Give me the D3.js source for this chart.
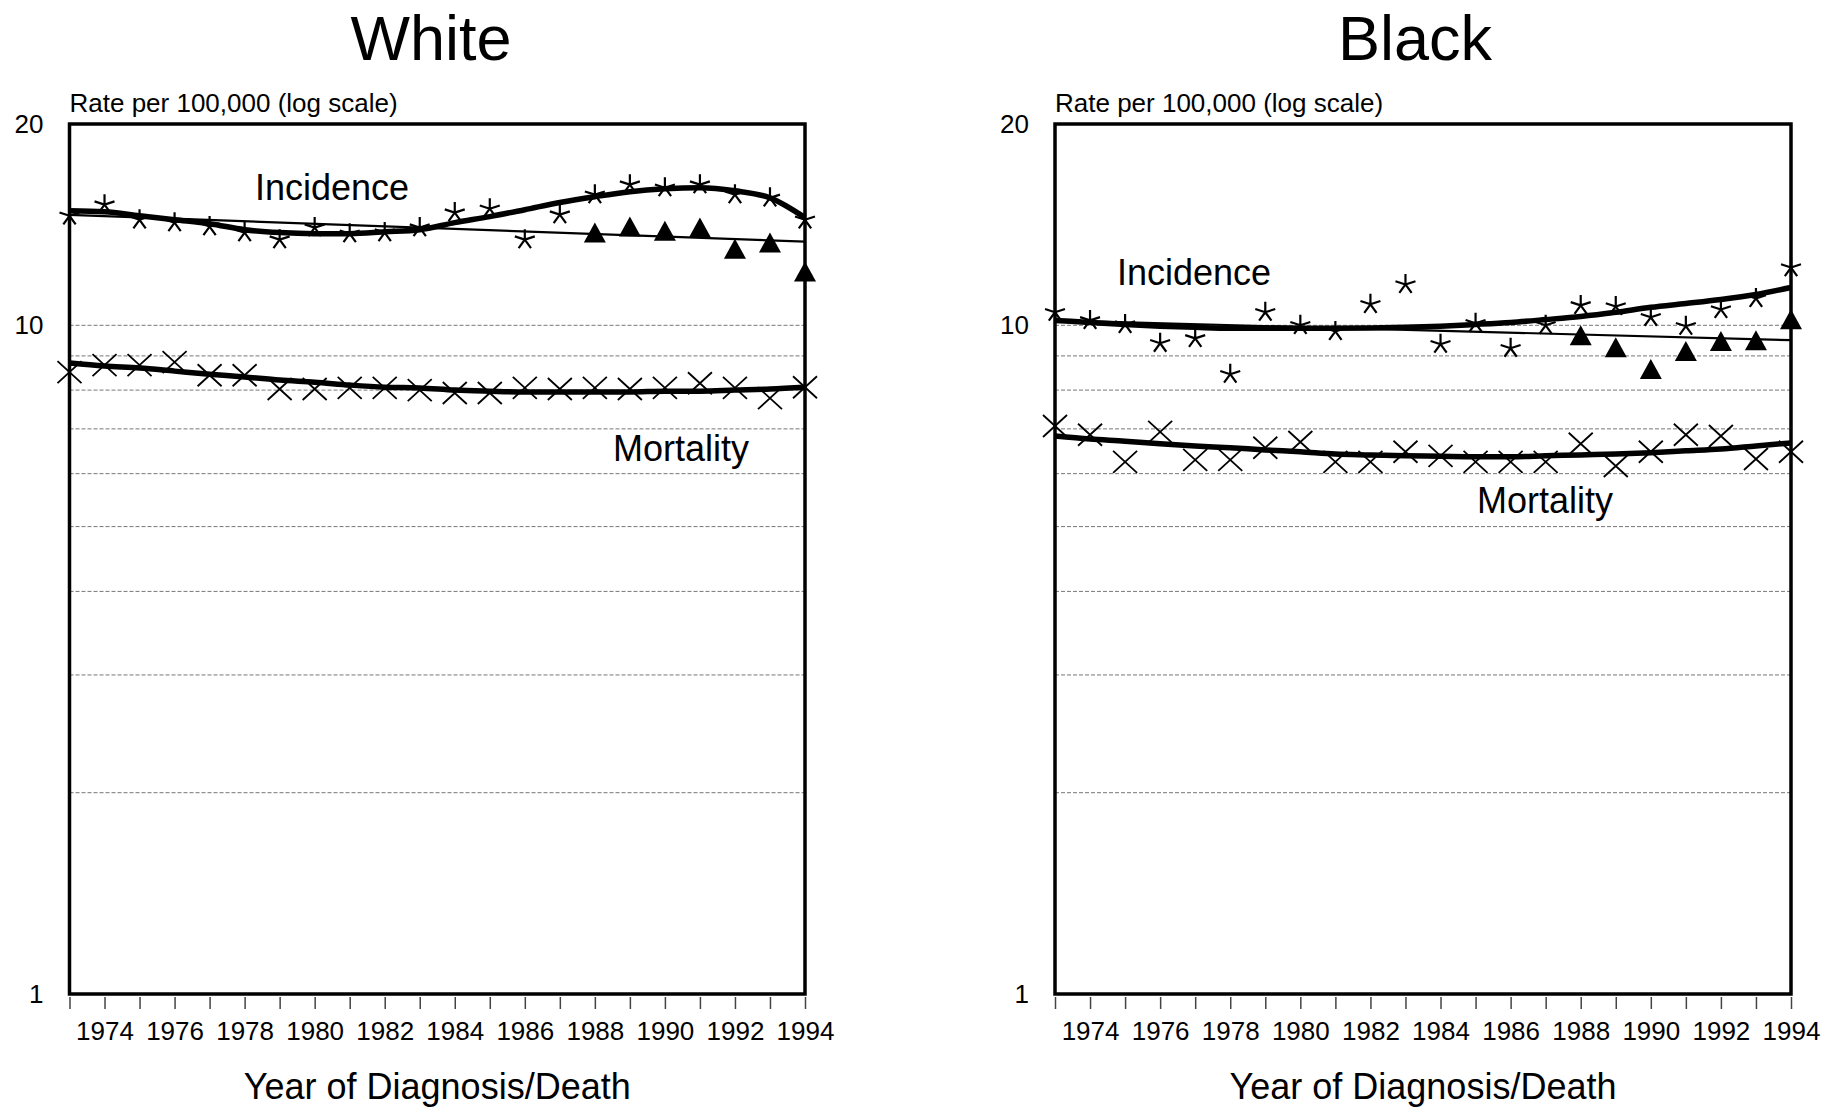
<!DOCTYPE html>
<html>
<head>
<meta charset="utf-8">
<script src="https://cdn.jsdelivr.net/npm/d3@7"></script>
<style>
  html, body { margin: 0; padding: 0; background: #fff; }
  svg { display: block; font-family: "Liberation Sans", Arial, sans-serif; }
</style>
</head>
<body>
<svg id="chart" width="1830" height="1108"></svg>
<script>
// ---------- data ----------
const years = [1973,1974,1975,1976,1977,1978,1979,1980,1981,1982,1983,1984,1985,1986,1987,1988,1989,1990,1991,1992,1993,1994];
const yearLabels = ["1974","1976","1978","1980","1982","1984","1986","1988","1990","1992","1994"];
const yTickValues = [1, 10, 20];
const gridValues = [2, 3, 4, 5, 6, 7, 8, 9, 10];
const adjYears = [1988,1989,1990,1991,1992,1993,1994];
const trendYears = [1973, 1994];

// White
const whiteIncidence = [14.58,15.15,14.38,14.24,14.05,13.76,13.43,14.0,13.71,13.76,14.0,14.74,14.94,13.43,14.64,15.68,16.23,16.06,16.23,15.68,15.51,14.38];
const whiteIncidenceFit = [14.84,14.79,14.58,14.38,14.19,13.9,13.76,13.71,13.71,13.8,13.9,14.24,14.54,14.89,15.26,15.57,15.84,16.0,16.06,15.89,15.51,14.49];
const whiteIncidenceTrend = [14.63, 13.34];
const whiteAdjusted = [13.76,14.05,13.85,14.0,13.02,13.3,12.04];
const whiteMortality = [8.51,8.72,8.72,8.81,8.42,8.42,8.03,8.03,8.06,8.06,8.0,7.92,7.92,8.06,8.03,8.06,8.03,8.06,8.19,8.06,7.78,8.08];
const whiteMortalityFit = [8.78,8.69,8.63,8.54,8.45,8.37,8.28,8.22,8.14,8.08,8.06,8.0,7.97,7.95,7.95,7.95,7.95,7.97,7.97,8.0,8.03,8.08];

// Black
const blackIncidence = [10.46,10.17,10.03,9.40,9.56,8.45,10.46,10.0,9.79,10.75,11.51,9.37,10.07,9.24,10.0,10.71,10.67,10.28,9.97,10.56,10.97,12.2];
const blackIncidenceFit = [10.17,10.10,10.03,9.97,9.93,9.90,9.90,9.90,9.90,9.91,9.93,9.97,10.03,10.10,10.2,10.31,10.46,10.64,10.78,10.93,11.12,11.39];
const blackIncidenceTrend = [10.17, 9.50];
const blackAdjusted = [9.66,9.27,8.60,9.15,9.47,9.50,10.21];
const blackMortality = [7.07,6.86,6.25,6.93,6.29,6.29,6.56,6.69,6.25,6.25,6.47,6.38,6.25,6.25,6.25,6.65,6.16,6.47,6.86,6.83,6.31,6.47];
const blackMortalityFit = [6.83,6.76,6.71,6.65,6.60,6.56,6.51,6.47,6.42,6.40,6.38,6.37,6.36,6.36,6.38,6.40,6.42,6.45,6.49,6.53,6.60,6.67];

const panels = [
  { title: "White", left: 69.5, right: 805, titleX: 431,
    incidence: whiteIncidence, incidenceFit: whiteIncidenceFit, trend: whiteIncidenceTrend, adjusted: whiteAdjusted,
    mortality: whiteMortality, mortalityFit: whiteMortalityFit,
    incLabel: [255, 200], morLabel: [613, 461] },
  { title: "Black", left: 1055, right: 1791, titleX: 1415,
    incidence: blackIncidence, incidenceFit: blackIncidenceFit, trend: blackIncidenceTrend, adjusted: blackAdjusted,
    mortality: blackMortality, mortalityFit: blackMortalityFit,
    incLabel: [1117, 285], morLabel: [1477, 513] }
];

// ---------- drawing ----------
const svg = d3.select("#chart");
const plotTop = 124, plotBottom = 994;
const y = d3.scaleLog().domain([1, 20]).range([plotBottom, plotTop]);

const starPath = (r) => {
  let p = "";
  for (let k = 0; k < 5; k++) {
    const a = -Math.PI / 2 + k * 2 * Math.PI / 5;
    p += `M0,0L${(r * Math.cos(a)).toFixed(2)},${(r * Math.sin(a)).toFixed(2)}`;
  }
  return p;
};
const xPath = "M-12,-11L12,11M-12,11L12,-11";
const triPath = "M0,-10L11,10L-11,10Z";

panels.forEach(P => {
  const g = svg.append("g");
  const x = d3.scaleLinear().domain([years[0], years[years.length - 1]]).range([P.left, P.right]);

  // title
  g.append("text").attr("x", P.titleX).attr("y", 60).attr("text-anchor", "middle")
    .attr("font-size", 63).text(P.title);
  g.append("text").attr("x", P.left).attr("y", 112).attr("font-size", 26)
    .text("Rate per 100,000 (log scale)");

  // grid
  g.append("g").selectAll("line").data(gridValues).join("line")
    .attr("x1", P.left).attr("x2", P.right)
    .attr("y1", d => y(d)).attr("y2", d => y(d))
    .attr("stroke", "#777").attr("stroke-width", 1).attr("stroke-dasharray", "4,2");

  // y axis labels
  const ya = g.append("g").attr("transform", `translate(${P.left},0)`)
    .call(d3.axisLeft(y).tickValues(yTickValues).tickSize(0).tickPadding(26).tickFormat(d3.format("d")));
  ya.select(".domain").remove();
  ya.selectAll("text").attr("font-size", 26).attr("fill", "#000").attr("font-family", "Liberation Sans, Arial, sans-serif");

  // x axis
  const xa = g.append("g").attr("transform", `translate(0,${plotBottom + 3})`)
    .call(d3.axisBottom(x).tickValues(years).tickSize(12).tickPadding(13)
      .tickFormat(d => yearLabels.includes(String(d)) ? String(d) : ""));
  xa.select(".domain").remove();
  xa.selectAll("line").attr("stroke", "#444").attr("stroke-width", 1.5);
  xa.selectAll("text").attr("font-size", 26).attr("fill", "#000").attr("font-family", "Liberation Sans, Arial, sans-serif");

  g.append("text").attr("x", (P.left + P.right) / 2).attr("y", 1099).attr("text-anchor", "middle")
    .attr("font-size", 36).text("Year of Diagnosis/Death");

  // frame
  g.append("rect").attr("x", P.left).attr("y", plotTop).attr("width", P.right - P.left).attr("height", plotBottom - plotTop)
    .attr("fill", "none").attr("stroke", "#000").attr("stroke-width", 3.5);

  const line = d3.line().x(d => x(d[0])).y(d => y(d[1]));

  // trend line (thin)
  g.append("path").datum(trendYears.map((yr, i) => [yr, P.trend[i]]))
    .attr("d", line).attr("fill", "none").attr("stroke", "#000").attr("stroke-width", 2.2);

  // fitted curves (thick)
  const smooth = d3.line().x(d => x(d[0])).y(d => y(d[1])).curve(d3.curveMonotoneX);
  [P.incidenceFit, P.mortalityFit].forEach(arr => {
    g.append("path").datum(years.map((yr, i) => [yr, arr[i]]))
      .attr("d", smooth).attr("fill", "none").attr("stroke", "#000").attr("stroke-width", 5.5)
      .attr("stroke-linejoin", "round");
  });

  // incidence stars
  g.append("g").selectAll("path").data(years.map((yr, i) => [yr, P.incidence[i]])).join("path")
    .attr("transform", d => `translate(${x(d[0])},${y(d[1])})`)
    .attr("d", starPath(10.5)).attr("stroke", "#000").attr("stroke-width", 2.2).attr("fill", "none");

  // adjusted triangles
  g.append("g").selectAll("path").data(adjYears.map((yr, i) => [yr, P.adjusted[i]])).join("path")
    .attr("transform", d => `translate(${x(d[0])},${y(d[1])})`)
    .attr("d", triPath).attr("fill", "#000");

  // mortality X
  g.append("g").selectAll("path").data(years.map((yr, i) => [yr, P.mortality[i]])).join("path")
    .attr("transform", d => `translate(${x(d[0])},${y(d[1])})`)
    .attr("d", xPath).attr("stroke", "#000").attr("stroke-width", 1.8).attr("fill", "none");

  // labels
  g.append("text").attr("x", P.incLabel[0]).attr("y", P.incLabel[1]).attr("font-size", 36).text("Incidence");
  g.append("text").attr("x", P.morLabel[0]).attr("y", P.morLabel[1]).attr("font-size", 36).text("Mortality");
});
</script>
</body>
</html>
